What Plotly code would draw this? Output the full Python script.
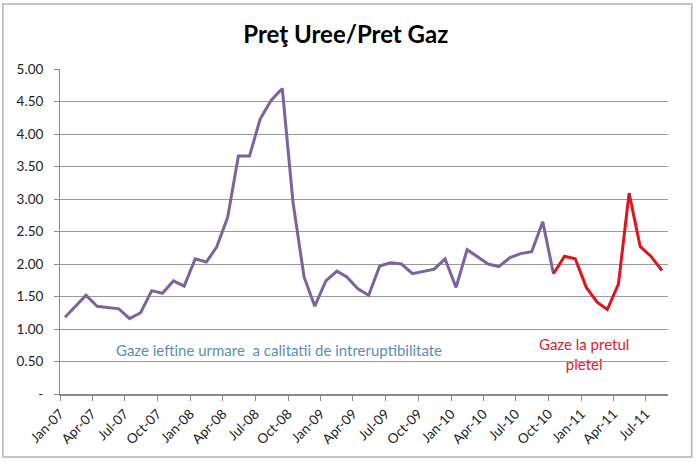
import pandas as pd
import plotly.graph_objs as go

# lunar, Jan-07 .. Aug-11
luni = pd.date_range("2007-01-01", "2011-08-01", freq="MS") + pd.Timedelta(days=14)

raport = [1.18, 1.36, 1.52, 1.35, 1.33, 1.31, 1.16, 1.25, 1.59, 1.55, 1.74, 1.66,
          2.08, 2.03, 2.26, 2.72, 3.66, 3.66, 4.23, 4.52, 4.70, 2.95, 1.80, 1.35,
          1.74, 1.89, 1.80, 1.62, 1.52, 1.97, 2.02, 2.00, 1.85, 1.88, 1.92, 2.08,
          1.64, 2.22, 2.12, 2.00, 1.96, 2.10, 2.16, 2.19, 2.65, 1.85,
          2.12, 2.08, 1.64, 1.41, 1.30, 1.69, 3.09, 2.27, 2.12, 1.90]

idx_piata = 45  # Oct-10: de aici gaze la pretul pietei

y_vals = [0, 0.5, 1, 1.5, 2, 2.5, 3, 3.5, 4, 4.5, 5]
y_text = ["-", "0.50", "1.00", "1.50", "2.00", "2.50", "3.00", "3.50", "4.00", "4.50", "5.00"]

fnt = "Lato, Calibri, sans-serif"

fig = go.Figure()
fig.add_trace(go.Scatter(x=luni[:idx_piata + 1], y=raport[:idx_piata + 1], mode="lines",
                         line=dict(color="#7b62a0", width=3), name="ieftin"))
fig.add_trace(go.Scatter(x=luni[idx_piata:], y=raport[idx_piata:], mode="lines",
                         line=dict(color="#e0141c", width=3), name="piata"))

fig.update_layout(
    width=700, height=466,
    margin=dict(l=60, r=32, t=69, b=72, autoexpand=False),
    paper_bgcolor="white", plot_bgcolor="white",
    showlegend=False,
    font=dict(family=fnt, size=13, color="#222222"),
    title=dict(text="<b>Preţ Uree/Pret Gaz</b>", xref="paper", x=0.47, xanchor="center",
               yref="container", y=0.925, yanchor="middle", automargin=False,
               font=dict(family=fnt, size=24, color="black")),
    xaxis=dict(type="date", range=["2007-01-01", "2011-09-01"], automargin=False,
               tick0="2007-01-01", dtick="M3", tickformat="%b-%y", tickangle=-45,
               ticks="outside", ticklen=5, tickcolor="#8a8a8a",
               showgrid=False, showline=True, linecolor="#8a8a8a", linewidth=1.5,
               tickfont=dict(size=13.5, color="#222222")),
    yaxis=dict(range=[0, 5], tickvals=y_vals, ticktext=y_text, automargin=False,
               ticks="outside", ticklen=5, tickcolor="#8a8a8a",
               showgrid=True, gridcolor="#9a9a9a", gridwidth=1,
               showline=True, linecolor="#8a8a8a", linewidth=1,
               zeroline=False, ticklabelstandoff=8,
               tickfont=dict(size=13.5, color="#222222")),
)

# chenarul graficului
fig.add_shape(type="rect", xref="paper", yref="paper", x0=-0.094, x1=1.039, y0=-0.194, y1=1.2,
              line=dict(color="#b4b4b4", width=1.5), layer="below")

fig.add_annotation(text="Gaze ieftine urmare  a calitatii de intreruptibilitate",
                   xref="paper", yref="y", x=0.36, y=0.68, showarrow=False,
                   font=dict(family=fnt, size=15, color="#5b8db8"))
fig.add_annotation(text="Gaze la pretul<br>pietei",
                   xref="paper", yref="y", x=0.939, y=0.615, showarrow=False, align="center",
                   font=dict(family=fnt, size=15, color="#d8232a"))

# fara margine implicita in pagina, ca graficul sa inceapa din colt
fig.write_html("out.html", config={"displayModeBar": False},
               post_script="document.body.style.margin = '0';")
